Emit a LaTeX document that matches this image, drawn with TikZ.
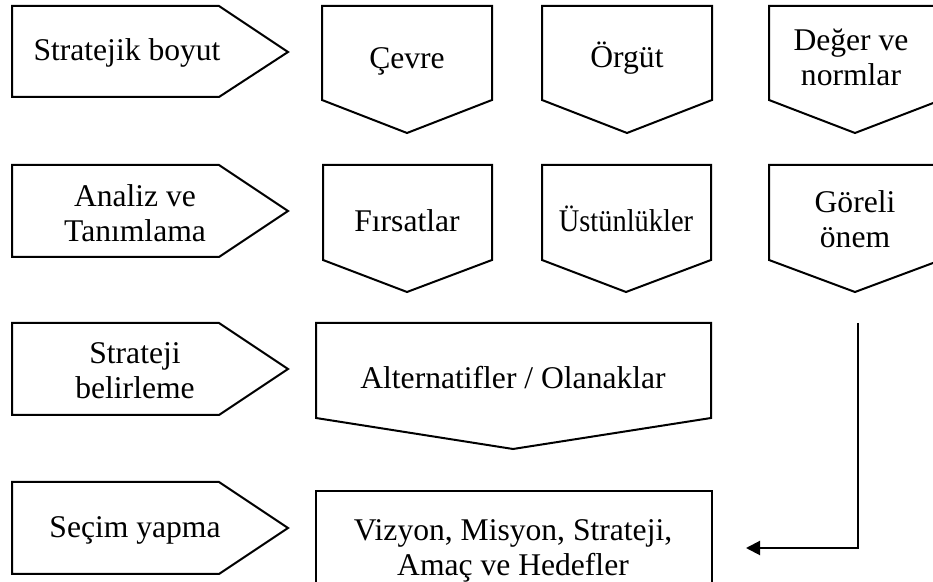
\documentclass[tikz,border=0pt]{standalone}
\usepackage{fontspec}
\setmainfont{Liberation Serif}[Ligatures=NoCommon]
\usetikzlibrary{arrows.meta}

\tikzset{
	kutu/.style={draw, line width=1pt, line join=miter},
	yazi/.style={font=\fontsize{15.8}{17.5}\selectfont, align=center, inner sep=0pt},
	ok/.style={line width=1pt, -{Triangle[length=7pt,width=7pt]}}
}

\begin{document}
\begin{tikzpicture}[x=0.5pt, y=-0.5pt]

				\useasboundingbox (0,0) rectangle (933,582);
				\clip (0,0) rectangle (933,582);

				% sol taraf
				\draw [kutu] (12,6) -- (219,6) -- (288,52) -- (219,97) -- (12,97) -- cycle;
				\draw [kutu] (12,165) -- (219,165) -- (288,211) -- (219,257) -- (12,257) -- cycle;
				\draw [kutu] (12,323) -- (219,323) -- (288,369) -- (219,415) -- (12,415) -- cycle;
				\draw [kutu] (12,482) -- (219,482) -- (288,528) -- (219,574) -- (12,574) -- cycle;

				\node [yazi] (boyut) at (127,53) {Stratejik boyut};
				\node [yazi] (analiz) at (135,213) {Analiz ve\\Tanımlama};
				\node [yazi] (belirle) at (135,371) {Strateji\\belirleme};
				\node [yazi] (secim) at (135,530) {Seçim yapma};

				%------
				\draw [kutu] (322,6) -- (492,6) -- (492,100) -- (407,133) -- (322,100) -- cycle;
				\draw [kutu] (542,6) -- (712,6) -- (712,100) -- (627,133) -- (542,100) -- cycle;
				\draw [kutu] (769,6) -- (941,6) -- (941,100) -- (855,133) -- (769,100) -- cycle;

				\node [yazi] (cevre) at (407,61) {Çevre};
				\node [yazi] (orgut) at (627,58) {Örgüt};
				\node [yazi] (deger) at (851,57) {Değer ve\\normlar};

				%------
				\draw [kutu] (323,165) -- (492,165) -- (492,260) -- (407,292) -- (323,260) -- cycle;
				\draw [kutu] (542,165) -- (711,165) -- (711,260) -- (626,292) -- (542,260) -- cycle;
				\draw [kutu] (769,165) -- (941,165) -- (941,260) -- (855,292) -- (769,260) -- cycle;

				\node [yazi] (firsat) at (407,221) {Fırsatlar};
				\node [yazi] (ustun) at (626,219) {\scalebox{0.9}[1]{Üstünlükler}};
				\node [yazi] (goreli) at (855,219) {Göreli\\önem};

				%------
				\draw [kutu] (316,323) -- (711,323) -- (711,418) -- (513,449) -- (316,418) -- cycle;
				\node [yazi] (alter) at (513,378) {Alternatifler / Olanaklar};

				\draw [kutu] (316,491) rectangle (712,600);
				\node [yazi] (vizyon) at (513,551) {Vizyon, Misyon, Strateji,\\Amaç ve Hedefler};

				\coordinate (okBas) at (858,323);
				\coordinate (okSon) at (746,548);
				\draw [ok] (okBas) |- (okSon);
		\end{tikzpicture}
\end{document}
